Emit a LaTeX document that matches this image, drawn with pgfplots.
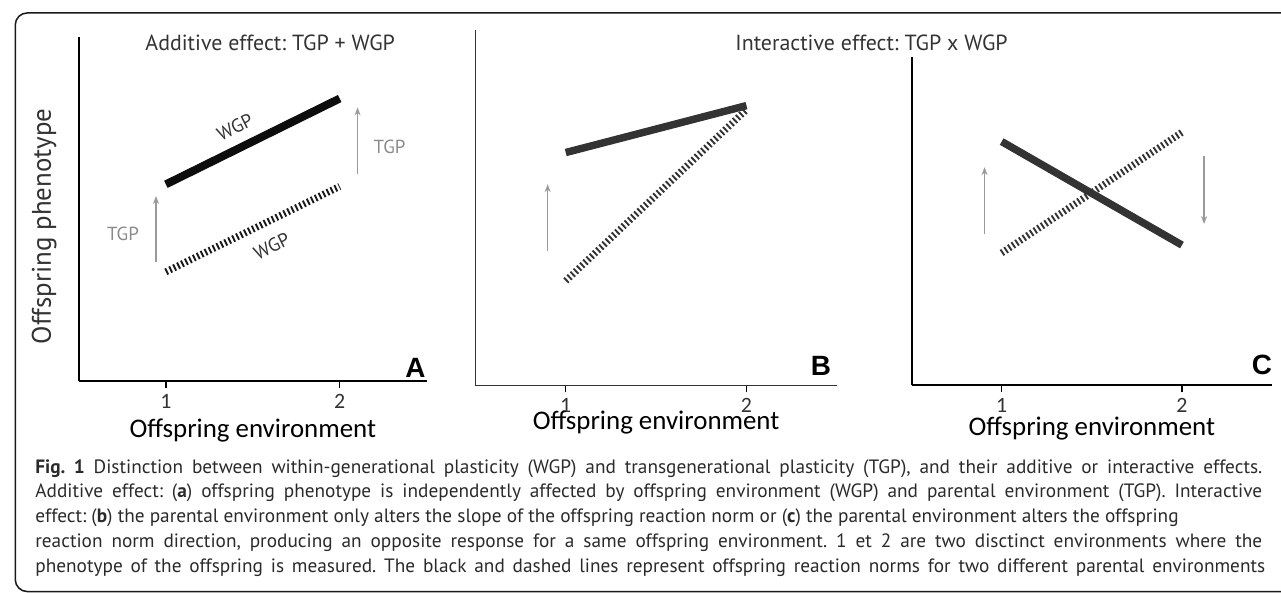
\documentclass[border=0pt]{standalone}
\usepackage{fontspec}
\setmainfont{PT Sans}
\newfontfamily\carlito{Carlito}
\newfontfamily\arialb{Liberation Sans}
\usepackage{pgfplots}
\pgfplotsset{compat=1.18}
\usetikzlibrary{arrows.meta}

\newcommand\fs[1]{\fontsize{#1}{#1}\selectfont}
\definecolor{arrowgray}{HTML}{9A9A9A}
\definecolor{dark}{HTML}{333333}
\definecolor{captext}{HTML}{2A2A2A}

\pgfplotsset{
  panel/.style={
    scale only axis, clip=false,
    axis x line*=bottom, axis y line*=left,
    xmin=0.5, xmax=2.5, ymin=0, ymax=1,
    xtick={1,2}, xticklabels={1,2}, ytick=\empty,
    tick align=outside, major tick length=7pt,
    tick style={line width=1.4pt, black},
    axis line style={line width=2pt, black},
    xticklabel style={font=\carlito\fs{22}, text=dark, inner sep=0pt, yshift=-6pt},
  },
  xlab/.style={every axis x label/.style={at={(rel axis cs:0.5,0)}, anchor=center,
    yshift=#1, font=\carlito\fs{27}, text=black}},
  solidnorm/.style={line width=8pt, line cap=butt},
  hatchnorm/.style={line width=7pt, line cap=butt, dash pattern=on 1.9pt off 2.5pt},
  tgparrow/.style={arrowgray, line width=1.6pt, -{Stealth[length=8pt,width=6pt]}},
}

% third caption line sets the caption size (it is not justified)
\newcommand\capthree{effect: (\textbf{b}) the parental environment only alters the slope of the offspring reaction norm or (\textbf{c}) the parental environment alters the offspring}
\newlength\capw

\begin{document}
\frenchspacing
\settowidth\capw{\fs{10}\capthree}
\pgfmathsetmacro\capsize{10*1148/\capw}
\begin{tikzpicture}
\path[use as bounding box] (0,0) rectangle (1281pt,-595pt);
\draw[line width=1.5pt, black!90, rounded corners=12pt]
  (1300pt,-13pt) -- (10pt,-13pt) -- (10pt,-594pt) -- (1300pt,-594pt);

% A: additive effect
\begin{axis}[panel, at={(74pt,-383pt)}, anchor=south west, width=349pt, height=346pt,
  xlabel={Offspring environment}, xlab=-49pt,
  ylabel={Offspring phenotype},
  every axis y label/.style={at={(rel axis cs:0,0.45)}, rotate=90, anchor=center,
    yshift=35pt, font=\fs{27}, text=dark}]
\addplot[solidnorm, black!95] coordinates {(1,0.572) (2,0.821)};
\addplot[hatchnorm, black!90] coordinates {(1,0.318) (2,0.566)};
\addplot[tgparrow] coordinates {(0.943,0.347) (0.943,0.538)};
\addplot[tgparrow] coordinates {(2.103,0.601) (2.103,0.795)};
\node[font=\fs{19}, text=arrowgray!90!black] at (axis cs:0.753,0.428) {TGP};
\node[font=\fs{19}, text=arrowgray!90!black] at (axis cs:2.287,0.682) {TGP};
\node[font=\fs{19}, text=dark, rotate=26.3] at (axis cs:1.397,0.737) {WGP};
\node[font=\fs{19}, text=dark, rotate=26.3] at (axis cs:1.609,0.393) {WGP};
\node[font=\fs{22}, text=dark] at (rel axis cs:0.55,0.983) {Additive effect: TGP + WGP};
\node[font=\arialb\bfseries\fs{28}] at (rel axis cs:0.968,0.038) {A};
\end{axis}

% B: interactive effect, slope
\begin{axis}[panel, at={(472pt,-387pt)}, anchor=south west, width=363pt, height=357pt,
  axis line style={line width=1.6pt, dark},
  xlabel={Offspring environment}, xlab=-37pt]
\addplot[solidnorm, dark, line width=7.5pt] coordinates {(1,0.655) (2,0.787)};
\addplot[hatchnorm, dark] coordinates {(1,0.294) (2,0.776)};
\addplot[tgparrow] coordinates {(0.9,0.378) (0.9,0.566)};
\node[font=\fs{22}, text=dark] at (rel axis cs:1.096,0.964) {Interactive effect: TGP x WGP};
\node[font=\arialb\bfseries\fs{28}] at (rel axis cs:0.956,0.056) {B};
\end{axis}

% C: interactive effect, direction
\begin{axis}[panel, at={(910pt,-387pt)}, anchor=south west, width=362pt, height=330pt,
  xlabel={Offspring environment}, xlab=-43pt]
\addplot[solidnorm, dark, line width=7.5pt] coordinates {(1,0.742) (2,0.427)};
\addplot[hatchnorm, dark] coordinates {(1,0.403) (2,0.770)};
\addplot[tgparrow] coordinates {(0.905,0.46) (0.905,0.664)};
\addplot[tgparrow] coordinates {(2.123,0.697) (2.123,0.491)};
\node[font=\arialb\bfseries\fs{28}] at (rel axis cs:0.972,0.061) {C};
\end{axis}

% caption
\begin{scope}[every node/.style={anchor=base west, inner sep=0pt, font=\fs{\capsize}, text=captext}]
\node at (30pt,-475pt) {\makebox[1232pt][s]{\textbf{Fig.~1} Distinction between within-generational plasticity (WGP) and transgenerational plasticity (TGP), and their additive or interactive effects.}};
\node at (30pt,-500pt) {\makebox[1232pt][s]{Additive effect: (\textbf{a}) offspring phenotype is independently affected by offspring environment (WGP) and parental environment (TGP). Interactive}};
\node at (30pt,-525pt) {\capthree};
\node at (30pt,-550pt) {\makebox[1232pt][s]{reaction norm direction, producing an opposite response for a same offspring environment. 1 et 2 are two disctinct environments where the}};
\node at (30pt,-575pt) {\makebox[1235pt][s]{phenotype of the offspring is measured. The black and dashed lines represent offspring reaction norms for two different parental environments}};
\end{scope}
\end{tikzpicture}
\end{document}
